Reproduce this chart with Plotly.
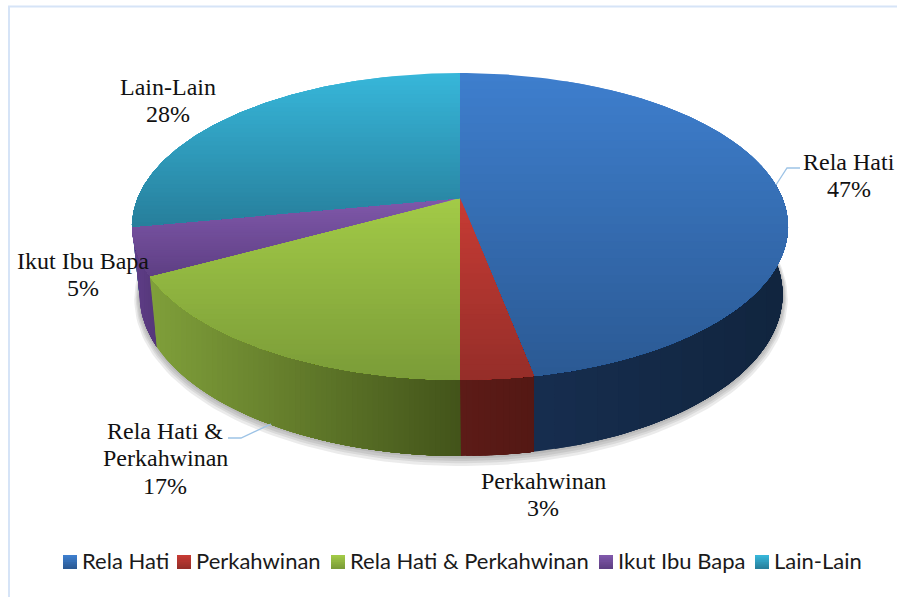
import numpy as np
import plotly.graph_objects as go

categories = ["Rela Hati", "Perkahwinan", "Rela Hati & Perkahwinan", "Ikut Ibu Bapa", "Lain-Lain"]
values = [47, 3, 17, 5, 28]
label_lines = [["Rela Hati"], ["Perkahwinan"], ["Rela Hati &", "Perkahwinan"], ["Ikut Ibu Bapa"], ["Lain-Lain"]]

# styling: (light, dark) for the top face, (start, end) for the side wall
top_colors = [("#3e7ecd", "#2b5a94"), ("#c63b34", "#962e29"), ("#a2ca47", "#7b9c38"),
              ("#8058aa", "#5e3f84"), ("#37b6d9", "#277f9c")]
wall_colors = [("#162d4e", "#11253f"), ("#5c1b17", "#541814"), ("#7f9f3a", "#43541a"),
               ("#603e88", "#55377a"), ("#2a8aa8", "#2a8aa8")]
label_pos = [(849, 161.5), (543, 480.5), (165, 430.5), (83, 260.5), (168, 86.5)]
swatch_x = [63, 177, 331, 599, 755]
legend_text_x = [81, 195, 349, 617, 773]
LINE_STEP = 27.5

# projection of the pie
CX, CY, K = 460.0, 198.0, 0.1857
A_TOP, B_TOP = 322.3, 148.2
X_LOW, Y_LOW, A_LOW, B_LOW = 461.0, 264.4, 316.0, 156.0


def top_rim(t):
    d = 1 + K * np.cos(t)
    return CX + A_TOP * np.sin(t) / d, CY - B_TOP * np.cos(t) / d


def low_rim(t, grow=0.0, dy=0.0):
    d = 1 + K * np.cos(t)
    return (X_LOW + (A_LOW + grow) * np.sin(t) / d,
            Y_LOW + dy - (B_LOW + grow) * np.cos(t) / d)


def clip(poly, axis, thr):
    out = []
    n = len(poly)
    for i in range(n):
        p, q = poly[i], poly[(i + 1) % n]
        pin, qin = p[axis] >= thr, q[axis] >= thr
        if pin:
            out.append(p)
        if pin != qin:
            s = (thr - p[axis]) / (q[axis] - p[axis])
            out.append((p[0] + s * (q[0] - p[0]), p[1] + s * (q[1] - p[1])))
    return out


def mix(c1, c2, s):
    a = [int(c1[i:i + 2], 16) for i in (1, 3, 5)]
    b = [int(c2[i:i + 2], 16) for i in (1, 3, 5)]
    return "rgb(%d,%d,%d)" % tuple(round(u + (v - u) * s) for u, v in zip(a, b))


fig = go.Figure()


def add_poly(poly, color):
    xs = [p[0] for p in poly] + [poly[0][0]]
    ys = [p[1] for p in poly] + [poly[0][1]]
    fig.add_trace(go.Scatter(x=xs, y=ys, mode="lines", fill="toself", fillcolor=color,
                             line=dict(width=0, color=color), hoverinfo="skip", showlegend=False))


def gradient(poly, axis, colors, n):
    lo = min(p[axis] for p in poly)
    hi = max(p[axis] for p in poly)
    if hi - lo < 1:
        add_poly(poly, colors[0])
        return
    for i in range(n):
        cut = clip(poly, axis, lo + (hi - lo) * i / n)
        if len(cut) >= 3:
            add_poly(cut, mix(colors[0], colors[1], i / (n - 1)))


edges = np.cumsum([0] + values) / sum(values) * 2 * np.pi

# soft shadow under the pie
ts = np.linspace(0, 2 * np.pi, 240)
for g, dy in [(5, 4), (3.5, 3), (2.5, 2), (1.2, 1)]:
    sx, sy = low_rim(ts, g, dy)
    add_poly(list(zip(sx, sy)), "rgba(60,60,60,0.10)")

# side walls, back to front
F0, F1 = np.radians(85), np.radians(275)
order = [4, 3, 2, 0, 1]
for idx in order:
    a, b = max(edges[idx], F0), min(edges[idx + 1], F1)
    if b <= a:
        continue
    t = np.linspace(a, b, 70)
    ux, uy = top_rim(t)
    lx, ly = low_rim(t)
    poly = list(zip(ux, uy)) + list(zip(lx[::-1], ly[::-1]))
    gradient(poly, 0, wall_colors[idx], 60 if idx == 2 else 12)

# top faces
for idx in range(len(values)):
    t = np.linspace(edges[idx], edges[idx + 1], 120)
    ux, uy = top_rim(t)
    poly = [(CX, CY)] + list(zip(ux, uy))
    gradient(poly, 1, top_colors[idx], 36)

# legend swatches
for idx, x0 in enumerate(swatch_x):
    rect = [(x0, 555), (x0 + 14, 555), (x0 + 14, 569), (x0, 569)]
    gradient(rect, 1, (top_colors[idx][0], top_colors[idx][1]), 8)

annotations = []
for idx, (x, y) in enumerate(label_pos):
    for j, line in enumerate(label_lines[idx] + [f"{values[idx]}%"]):
        annotations.append(dict(x=x, y=y + j * LINE_STEP, text=line, showarrow=False, xref="x", yref="y",
                                xanchor="center", yanchor="middle", align="center", borderpad=0,
                                font=dict(family="Liberation Serif", size=24, color="#111111")))
for idx, x in enumerate(legend_text_x):
    annotations.append(dict(x=x, y=560, text=categories[idx], showarrow=False, xref="x", yref="y",
                            xanchor="left", yanchor="middle", borderpad=0,
                            font=dict(family="Lato", size=22, color="#1a1a1a")))

shapes = [
    dict(type="line", x0=9, y0=6.5, x1=9, y1=597, line=dict(color="#d6e4f7", width=2)),
    dict(type="line", x0=8, y0=6.5, x1=897, y1=6.5, line=dict(color="#d6e4f7", width=2)),
    dict(type="path", path="M800,168 L787,168 L776,185", line=dict(color="#9dc3e6", width=1.3)),
    dict(type="path", path="M228,438 L241,438 L271,424", line=dict(color="#9dc3e6", width=1.3)),
]

fig.update_layout(
    width=897, height=597, margin=dict(l=0, r=0, t=0, b=0), showlegend=False,
    paper_bgcolor="white", plot_bgcolor="white", annotations=annotations, shapes=shapes,
    xaxis=dict(range=[0, 897], visible=False, fixedrange=True),
    yaxis=dict(range=[597, 0], visible=False, fixedrange=True),
)
fig.write_html("out.html", config=dict(displayModeBar=False),
               post_script="document.body.style.margin='0';document.body.style.overflow='hidden';")
